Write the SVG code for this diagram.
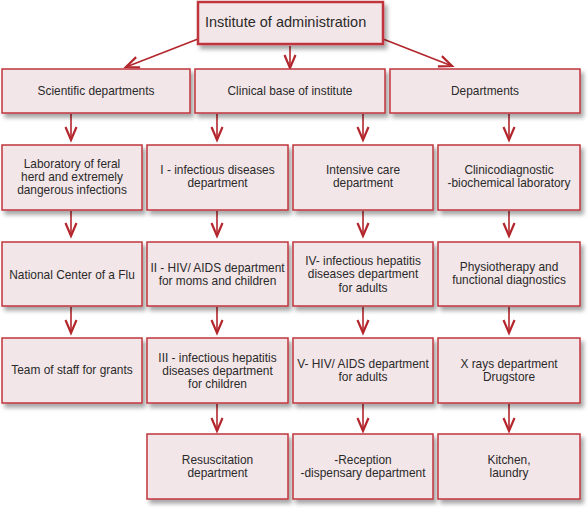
<svg xmlns="http://www.w3.org/2000/svg" width="588" height="508" viewBox="0 0 588 508">
<style>
.box{fill:#f3e6e8;stroke:#c0353c;stroke-width:1.5;filter:url(#sh)}
.top{stroke-width:2.5}
text{font-family:"Liberation Sans",Arial,sans-serif;font-size:11.9px;fill:#2a2a2a;text-anchor:middle}
.t{font-size:14.5px;text-anchor:start}
.c line{stroke:#b3262c;stroke-width:1.6;marker-end:url(#ah)}
</style>
<defs>
<filter id="sh" x="-10%" y="-10%" width="125%" height="140%">
<feDropShadow dx="3" dy="4" stdDeviation="2" flood-color="#000" flood-opacity="0.35"/>
</filter>
<marker id="ah" markerUnits="userSpaceOnUse" markerWidth="30" markerHeight="30" viewBox="-20 -15 30 30" refX="0" refY="0" orient="auto" overflow="visible">
<path d="M-13,-5.5 L0,0 L-13,5.5" fill="none" stroke="#b3262c" stroke-width="2.2" stroke-linejoin="miter"/>
</marker>
</defs>
<rect width="588" height="508" fill="#fff"/>
<g class="c" id="connectors">
<line x1="198" y1="39" x2="126" y2="67"/>
<line x1="290" y1="46" x2="290" y2="68"/>
<line x1="383" y1="39" x2="452" y2="66"/>
<line x1="71" y1="114" x2="71" y2="140"/>
<line x1="217" y1="114" x2="217" y2="140"/>
<line x1="363" y1="114" x2="363" y2="140"/>
<line x1="509" y1="114" x2="509" y2="140"/>
<line x1="71" y1="211" x2="71" y2="236"/>
<line x1="217" y1="211" x2="217" y2="236"/>
<line x1="363" y1="211" x2="363" y2="236"/>
<line x1="509" y1="211" x2="509" y2="236"/>
<line x1="71" y1="307" x2="71" y2="333"/>
<line x1="217" y1="307" x2="217" y2="333"/>
<line x1="363" y1="307" x2="363" y2="333"/>
<line x1="509" y1="307" x2="509" y2="333"/>
<line x1="217" y1="404" x2="217" y2="431"/>
<line x1="363" y1="404" x2="363" y2="431"/>
<line x1="509" y1="404" x2="509" y2="431"/>
</g>
<g id="n-top"><rect class="box top" x="198" y="2" width="185" height="42"/><text class="t" x="205" y="27">Institute of administration</text></g>
<g id="n-sci"><rect class="box" x="2" y="69" width="188" height="44"/><text x="96" y="95">Scientific departments</text></g>
<g id="n-clin"><rect class="box" x="195" y="69" width="190" height="44"/><text x="290" y="95">Clinical base of institute</text></g>
<g id="n-dep"><rect class="box" x="390" y="69" width="190" height="44"/><text x="485" y="95">Departments</text></g>

<g id="n-lab"><rect class="box" x="2" y="145" width="140" height="65"/><text x="72" y="167.5">Laboratory of feral</text><text x="72" y="180.5">herd and extremely</text><text x="72" y="193.5">dangerous infections</text></g>
<g id="n-inf1"><rect class="box" x="147" y="145" width="141" height="65"/><text x="217.5" y="173.5">I - infectious diseases</text><text x="217.5" y="187">department</text></g>
<g id="n-icu"><rect class="box" x="293" y="145" width="140" height="65"/><text x="363" y="173.5">Intensive care</text><text x="363" y="187">department</text></g>
<g id="n-clinlab"><rect class="box" x="438" y="145" width="142" height="65"/><text x="509" y="173.5">Clinicodiagnostic</text><text x="509" y="187">-biochemical laboratory</text></g>

<g id="n-flu"><rect class="box" x="2" y="242" width="140" height="64"/><text x="72" y="278.5">National Center of a Flu</text></g>
<g id="n-hiv2"><rect class="box" x="147" y="242" width="141" height="64"/><text x="217.5" y="271.5">II - HIV/ AIDS department</text><text x="217.5" y="284.5">for moms and children</text></g>
<g id="n-hep4"><rect class="box" x="293" y="242" width="140" height="64"/><text x="363" y="265">IV- infectious hepatitis</text><text x="363" y="278.3">diseases department</text><text x="363" y="291.6">for adults</text></g>
<g id="n-physio"><rect class="box" x="438" y="242" width="142" height="64"/><text x="509" y="271">Physiotherapy and</text><text x="509" y="284">functional diagnostics</text></g>

<g id="n-grants"><rect class="box" x="2" y="338" width="140" height="65"/><text x="72" y="373.5">Team of staff for grants</text></g>
<g id="n-hep3"><rect class="box" x="147" y="338" width="141" height="65"/><text x="217.5" y="361.7">III - infectious hepatitis</text><text x="217.5" y="375">diseases department</text><text x="217.5" y="388.3">for children</text></g>
<g id="n-hiv5"><rect class="box" x="293" y="338" width="140" height="65"/><text x="363" y="367.7">V- HIV/ AIDS department</text><text x="363" y="381.3">for adults</text></g>
<g id="n-xray"><rect class="box" x="438" y="338" width="142" height="65"/><text x="509" y="367.7">X rays department</text><text x="509" y="381.3">Drugstore</text></g>

<g id="n-resus"><rect class="box" x="147" y="434" width="141" height="65"/><text x="217.5" y="464">Resuscitation</text><text x="217.5" y="477">department</text></g>
<g id="n-recep"><rect class="box" x="293" y="434" width="140" height="65"/><text x="363" y="464">-Reception</text><text x="363" y="477">-dispensary department</text></g>
<g id="n-kitchen"><rect class="box" x="438" y="434" width="142" height="65"/><text x="509" y="464">Kitchen,</text><text x="509" y="477">laundry</text></g>
</svg>
